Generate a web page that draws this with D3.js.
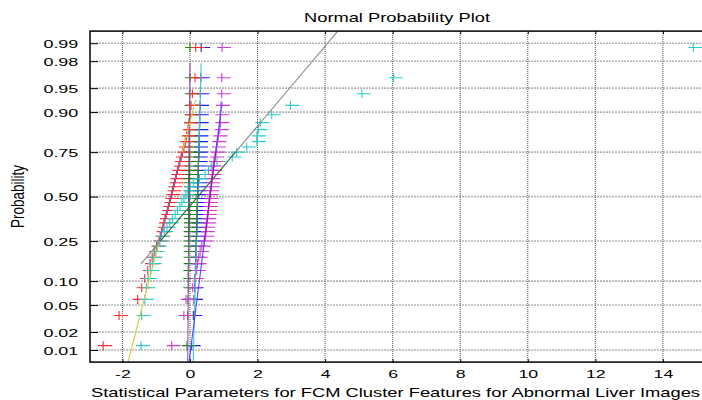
<!DOCTYPE html>
<html><head><meta charset="utf-8">
<script src="https://cdn.jsdelivr.net/npm/d3@7"></script>
<style>body{margin:0;background:#fff}svg{display:block}</style>
</head><body>
<svg id="c" width="702" height="400"></svg>
<script>
// ---------- data ----------
const probTicks = [0.01, 0.02, 0.05, 0.10, 0.25, 0.50, 0.75, 0.90, 0.95, 0.98, 0.99];
const probLabels = ["0.01","0.02","0.05","0.10","0.25","0.50","0.75","0.90","0.95","0.98","0.99"];
const xTicks = [-2, 0, 2, 4, 6, 8, 10, 12, 14];
const seriesNames = ["blue", "green", "red", "cyan", "magenta"];
const blueVals = [0.05,0.10,0.12,0.14,0.15,0.16,0.17,0.17,0.18,0.18,0.19,0.19,0.20,0.20,0.20,0.21,0.21,0.21,0.22,0.22,0.22,0.23,0.23,0.23,0.24,0.24,0.24,0.25,0.25,0.25,0.26,0.26,0.27,0.27,0.28,0.28,0.29,0.29,0.30,0.31,0.32,0.33];
const greenVals = [-0.09,-0.07,-0.06,-0.05,-0.05,-0.05,-0.04,-0.04,-0.04,-0.04,-0.04,-0.04,-0.04,-0.03,-0.03,-0.03,-0.03,-0.03,-0.03,-0.03,-0.03,-0.03,-0.03,-0.03,-0.03,-0.03,-0.03,-0.02,-0.02,-0.02,-0.02,-0.02,-0.02,-0.02,-0.02,-0.02,-0.02,-0.01,-0.01,-0.01,0.00,0.00];
const redVals = [-2.57,-2.10,-1.55,-1.43,-1.34,-1.25,-1.18,-1.12,-1.06,-0.99,-0.92,-0.88,-0.84,-0.80,-0.77,-0.74,-0.70,-0.67,-0.64,-0.61,-0.58,-0.55,-0.52,-0.49,-0.46,-0.43,-0.40,-0.37,-0.33,-0.30,-0.26,-0.22,-0.18,-0.14,-0.10,-0.06,-0.03,0.00,0.03,0.07,0.15,0.17];
const cyanVals = [-1.45,-1.43,-1.34,-1.29,-1.24,-1.17,-1.11,-1.07,-1.01,-0.96,-0.89,-0.85,-0.76,-0.68,-0.60,-0.52,-0.44,-0.37,-0.30,-0.24,-0.18,-0.12,-0.06,0.00,0.10,0.28,0.45,0.55,0.63,0.80,1.25,1.38,1.68,1.98,1.98,2.03,2.08,2.42,2.97,5.09,6.03,14.9];
const magentaVals = [-0.54,-0.18,-0.12,0.08,0.15,0.20,0.22,0.26,0.30,0.35,0.42,0.45,0.47,0.48,0.50,0.51,0.53,0.54,0.55,0.56,0.58,0.59,0.60,0.62,0.63,0.64,0.66,0.68,0.69,0.71,0.74,0.77,0.79,0.81,0.84,0.88,0.90,0.90,0.92,0.94,0.94,0.95];

// ---------- styles ----------
const seriesData = [blueVals, greenVals, redVals, cyanVals, magentaVals];
const markerColor = {blue:"#1a1aff", green:"#138a13", red:"#ff2a2a", cyan:"#2ccaca", magenta:"#d23ad2"};
const lineMid = {blue:"#3a9a3a", green:"#8a3a9a", red:"#6a6ad0", cyan:"#2b6b2b", magenta:"#8a10c0"};
const lineExt = {blue:"#40c8c8", green:"#9a50b0", red:"#d2cc40", cyan:"#8a8a8a", magenta:"#4a4aff"};

function norminv(p){
  const a=[-3.969683028665376e+01,2.209460984245205e+02,-2.759285104469687e+02,1.383577518672690e+02,-3.066479806614716e+01,2.506628277459239e+00];
  const b=[-5.447609879822406e+01,1.615858368580409e+02,-1.556989798598866e+02,6.680131188771972e+01,-1.328068155288572e+01];
  const c=[-7.784894002430293e-03,-3.223964580411365e-01,-2.400758277161838e+00,-2.549732539343734e+00,4.374664141464968e+00,2.938163982698783e+00];
  const d=[7.784695709041462e-03,3.224671290700398e-01,2.445134137142996e+00,3.754408661907416e+00];
  const pl=0.02425, ph=1-pl; let q, r;
  if(p<pl){q=Math.sqrt(-2*Math.log(p));return (((((c[0]*q+c[1])*q+c[2])*q+c[3])*q+c[4])*q+c[5])/((((d[0]*q+d[1])*q+d[2])*q+d[3])*q+1);}
  if(p<=ph){q=p-0.5;r=q*q;return (((((a[0]*r+a[1])*r+a[2])*r+a[3])*r+a[4])*r+a[5])*q/(((((b[0]*r+b[1])*r+b[2])*r+b[3])*r+b[4])*r+1);}
  q=Math.sqrt(-2*Math.log(1-p));return -(((((c[0]*q+c[1])*q+c[2])*q+c[3])*q+c[4])*q+c[5])/((((d[0]*q+d[1])*q+d[2])*q+d[3])*q+1);
}

const L = 90, R = 710.2, T = 31.1, B = 362.1;
const x = d3.scaleLinear().domain([-2.96, 15.4]).range([L, R]);
const y = d3.scaleLinear().domain([-2.51, 2.51]).range([B, T]);
const svg = d3.select("#c");
const FONT = "'Liberation Sans', Arial, Helvetica, sans-serif";
const SX = 1.5;

svg.append("defs").append("clipPath").attr("id","clip")
  .append("rect").attr("x",L).attr("y",T).attr("width",R-L).attr("height",B-T);

// grid
const grid = svg.append("g");
grid.selectAll("line.h").data(probTicks).join("line")
  .attr("x1",L).attr("x2",R).attr("y1",d=>y(norminv(d))).attr("y2",d=>y(norminv(d)))
  .attr("stroke","#b4b4b4").attr("stroke-width",1.6).attr("stroke-dasharray","2,1");
grid.selectAll("line.v").data(xTicks).join("line")
  .attr("y1",T).attr("y2",B).attr("x1",d=>x(d)).attr("x2",d=>x(d))
  .attr("stroke","#4a4a4a").attr("stroke-width",1).attr("stroke-dasharray","1,1");

// axes (ticks inward)
const zTicks = probTicks.map(norminv);
const gBottom = svg.append("g").attr("transform",`translate(0,${B})`)
  .call(d3.axisBottom(x).tickValues(xTicks).tickSize(-3).tickPadding(12).tickFormat(d=>String(d)));
const gTop = svg.append("g").attr("transform",`translate(0,${T})`)
  .call(d3.axisTop(x).tickValues(xTicks).tickSize(-3).tickFormat(""));
const gLeft = svg.append("g").attr("transform",`translate(${L},0)`)
  .call(d3.axisLeft(y).tickValues(zTicks).tickSize(-8).tickPadding(11.7).tickFormat((d,i)=>probLabels[i]));
const gRight = svg.append("g").attr("transform",`translate(${R},0)`)
  .call(d3.axisRight(y).tickValues(zTicks).tickSize(-8).tickFormat(""));
[gBottom,gTop,gLeft,gRight].forEach(g=>{
  g.select(".domain").remove();
  g.selectAll(".tick line").attr("stroke","#000").attr("stroke-width",1);
});
gBottom.selectAll("text").attr("font-family",FONT).attr("font-size",11.8).attr("fill","#000")
  .attr("transform",`scale(${SX},1)`).attr("dy","0.3em");
gLeft.selectAll("text").attr("font-family",FONT).attr("font-size",11.8).attr("fill","#000")
  .attr("x",-11.7/1.52).attr("transform",`scale(1.52,1)`).attr("dy","0.36em");

// markers
const plot = svg.append("g").attr("clip-path","url(#clip)");
seriesNames.forEach((name,k)=>{
  const vals = seriesData[k].slice().sort(d3.ascending);
  const n = vals.length;
  const pts = vals.map((v,i)=>({x:v, z:norminv((i+0.5)/n)}));
  plot.append("g").selectAll("path").data(pts).join("path")
    .attr("d",d=>{const cx=x(d.x), cy=y(d.z);return `M${cx-5},${cy}H${cx+9}M${cx},${cy-4.5}V${cy+4.5}`;})
    .attr("fill","none").attr("stroke",markerColor[name]).attr("stroke-width",1.1);
});

// reference lines (through quartiles, extended to data range)
seriesNames.forEach((name,k)=>{
  const vals = seriesData[k].slice().sort(d3.ascending);
  const q1 = d3.quantile(vals,0.25), q3 = d3.quantile(vals,0.75);
  const z1 = norminv(0.25), z3 = norminv(0.75);
  const slope = (z3-z1)/(q3-q1);
  const zAt = v => z1 + (v-q1)*slope;
  const xmin = d3.min(vals), xmax = d3.max(vals);
  const seg = (a,b,col)=>plot.append("line")
    .attr("x1",x(a)).attr("y1",y(zAt(a))).attr("x2",x(b)).attr("y2",y(zAt(b)))
    .attr("stroke",col).attr("stroke-width",1.1);
  seg(xmin,q1,lineExt[name]);
  seg(q3,xmax,lineExt[name]);
  seg(q1,q3,lineMid[name]);
});

// box
svg.append("rect").attr("x",L).attr("y",T).attr("width",R-L).attr("height",B-T)
  .attr("fill","none").attr("stroke","#000").attr("stroke-width",1.5);

// texts
svg.append("text").attr("x",397).attr("y",22).attr("text-anchor","middle")
  .attr("font-family",FONT).attr("font-size",13).attr("textLength",186).attr("lengthAdjust","spacingAndGlyphs")
  .text("Normal Probability Plot");
svg.append("text").attr("x",91).attr("y",397)
  .attr("font-family",FONT).attr("font-size",12.8).attr("textLength",609).attr("lengthAdjust","spacingAndGlyphs")
  .text("Statistical Parameters for FCM Cluster Features for Abnormal Liver Images");
svg.append("text").attr("transform",`translate(24,${(T+B)/2}) scale(1.3,1) rotate(-90)`)
  .attr("text-anchor","middle").attr("font-family",FONT).attr("font-size",13.5)
  .text("Probability");
</script>
</body></html>
